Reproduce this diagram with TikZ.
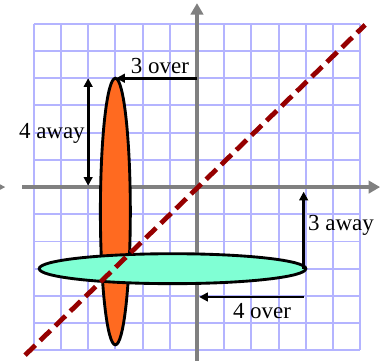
\documentclass[tikz,border=0pt]{standalone}
\usepackage{fontspec}
\setmainfont{Liberation Serif}
\usetikzlibrary{arrows.meta}
\definecolor{gridblue}{RGB}{180,180,255}
\definecolor{axisgray}{RGB}{128,128,128}
\definecolor{linered}{RGB}{150,0,0}
\definecolor{tallorange}{RGB}{255,106,32}
\definecolor{flatcyan}{RGB}{128,255,212}
\tikzset{
  axisline/.style={line width=5pt,axisgray,-{Triangle[length=12pt,width=13pt]}},
  dimarrow/.style={line width=3pt,-{Triangle[length=9pt,width=9pt]}},
  lbl/.style={font=\fontsize{24}{28}\selectfont,inner sep=0pt},
}
\begin{document}
\begin{tikzpicture}[x=1cm,y=1cm]
    \useasboundingbox (-7.24,-6.36) rectangle (7.02,6.875);
    % grid and axes
    \draw[gridblue,line width=2pt] (-6,-6) grid (6,6);
    \draw[axisline] (-6.43,0) -- (6.73,0);
    \draw[axisline] (0,-6.5) -- (0,6.76);
    \fill[axisgray] (-7.35,0.16) -- (-7.05,0) -- (-7.35,-0.16) -- cycle;
    % the two ellipses
    \draw[line width=3pt,fill=tallorange] (-3,-0.9) ellipse [x radius=0.55,y radius=4.9];
    \draw[line width=3pt,fill=flatcyan] (-0.9,-3) ellipse [x radius=4.9,y radius=0.55];
    \draw[linered,line width=5pt,dash pattern=on 15pt off 7pt] (-6.32,-6.18) -- (6.18,5.96);
    % points for the measures
    \coordinate (orangetop) at (-2.97,4);
    \coordinate (yaxisup) at (0,4);
    \coordinate (awaytop) at (-4,4);
    \coordinate (awaybot) at (-4,0.05);
    \coordinate (cyanend) at (3.92,-3);
    \coordinate (xaxisdown) at (3.92,-0.17);
    \coordinate (overend) at (3.92,-4.04);
    \coordinate (yaxisdown) at (0.08,-4.04);
    \draw[dimarrow] (yaxisup) -- (orangetop);
    \draw[dimarrow,{Triangle[length=9pt,width=9pt]}-{Triangle[length=9pt,width=9pt]}] (awaytop) -- (awaybot);
    \draw[dimarrow] (cyanend) -- (xaxisdown);
    \draw[dimarrow] (overend) -- (yaxisdown);
    \node[lbl,anchor=base] (threeover) at (-1.36,4.19) {3 over};
    \node[lbl,anchor=base east] (fouraway) at (-4.12,1.8) {4 away};
    \node[lbl,anchor=base west] (threeaway) at (4.08,-1.58) {3 away};
    \node[lbl,anchor=base] (fourover) at (2.39,-4.84) {4 over};
  \end{tikzpicture}
\end{document}
